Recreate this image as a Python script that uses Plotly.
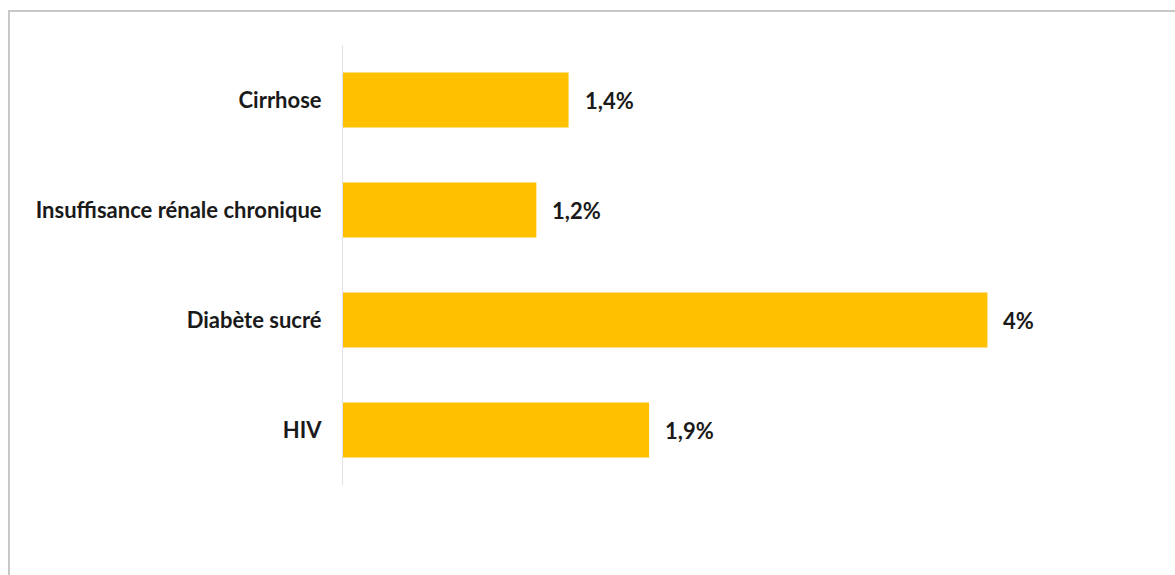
import plotly.graph_objects as go

# Comorbidity prevalence (%)
categories = ["Cirrhose", "Insuffisance rénale chronique", "Diabète sucré", "HIV"]
values = [1.4, 1.2, 4.0, 1.9]

labels = [f"{v:g}".replace(".", ",") + "%" for v in values]

FONT = "Lato"
BAR_COLOR = "#FFC000"
TEXT_COLOR = "#1a1a1a"

fig = go.Figure(
    go.Bar(
        x=values,
        y=categories,
        orientation="h",
        marker=dict(color=BAR_COLOR, line=dict(width=0)),
        width=0.5,
        hoverinfo="skip",
    )
)

for cat, v, lab in zip(categories, values, labels):
    fig.add_annotation(
        x=v, y=cat, text=f"<b>{lab}</b>", showarrow=False,
        xanchor="left", yanchor="middle", xshift=14,
        font=dict(family=FONT, size=22, color=TEXT_COLOR),
    )

# outer chart border
fig.add_shape(
    type="rect", xref="paper", yref="paper",
    x0=-0.4607, x1=1.2, y0=-1, y1=1.0773,
    line=dict(color="#c8c8c8", width=2), fillcolor="rgba(0,0,0,0)",
    layer="below",
)

fig.update_layout(
    width=1175, height=575,
    margin=dict(l=343, r=107, t=45, b=90),
    paper_bgcolor="white", plot_bgcolor="white",
    showlegend=False,
    bargap=0.5,
    xaxis=dict(range=[0, 4.5], visible=False, fixedrange=True),
    yaxis=dict(
        categoryorder="array", categoryarray=categories[::-1],
        autorange=False, range=[-0.5, 3.5],
        showgrid=False, zeroline=False,
        showline=True, linecolor="#dfe2e8", linewidth=1,
        ticks="", ticklabelstandoff=16,
        tickfont=dict(family=FONT, size=22, color=TEXT_COLOR, weight="bold"),
        fixedrange=True,
    ),
)

fig.write_html("out.html", config={"displayModeBar": False})
